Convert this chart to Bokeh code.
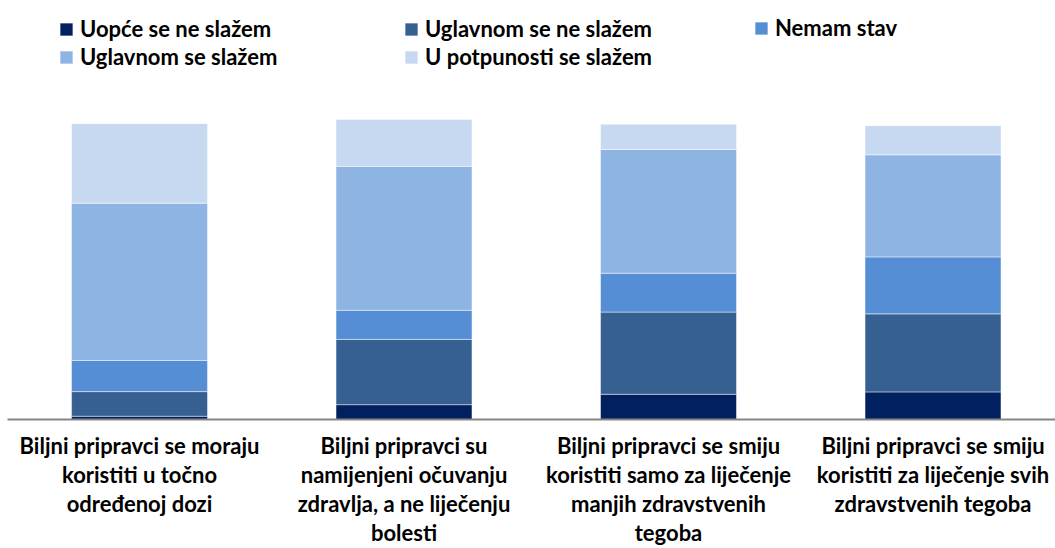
from bokeh.plotting import figure
from bokeh.models import Range1d, FixedTicker, Legend, LegendItem, ColumnDataSource
from bokeh.embed import file_html
from bokeh.resources import INLINE

categories = [
    "Biljni pripravci se moraju\nkoristiti u točno\nodređenoj dozi",
    "Biljni pripravci su\nnamijenjeni očuvanju\nzdravlja, a ne liječenju\nbolesti",
    "Biljni pripravci se smiju\nkoristiti samo za liječenje\nmanjih zdravstvenih\ntegoba",
    "Biljni pripravci se smiju\nkoristiti za liječenje svih\nzdravstvenih tegoba",
]
series = ["Uopće se ne slažem", "Uglavnom se ne slažem", "Nemam stav",
          "Uglavnom se slažem", "U potpunosti se slažem"]
uopce_ne = [1.1, 5.0, 8.5, 9.3]
uglavnom_ne = [8.3, 22.0, 27.7, 26.3]
nemam_stav = [10.5, 9.8, 13.1, 19.2]
uglavnom_da = [53.0, 48.5, 41.7, 34.4]
potpuno_da = [26.8, 15.8, 8.5, 9.8]
colors = ["#002060", "#376092", "#558ED5", "#8EB4E3", "#C6D9F1"]

xs = list(range(len(categories)))
keys = ["s0", "s1", "s2", "s3", "s4"]
source = ColumnDataSource(dict(x=xs, s0=uopce_ne, s1=uglavnom_ne, s2=nemam_stav,
                               s3=uglavnom_da, s4=potpuno_da))

W, H = 1055, 548
p = figure(width=W, height=H, output_backend="svg", toolbar_location=None,
           x_range=Range1d(-0.4991, 3.4631), y_range=Range1d(0, 141.2),
           min_border_left=7, min_border_right=0, min_border_top=0,
           min_border_bottom=124)
p.outline_line_color = None
p.xgrid.visible = False
p.ygrid.visible = False
p.yaxis.visible = False

rs = p.vbar_stack(keys, x="x", width=0.514, source=source, color=colors,
                  line_color="white", line_alpha=0.45, line_width=1)

ax = p.xaxis[0]
ax.ticker = FixedTicker(ticks=xs)
ax.major_label_overrides = {i: c for i, c in zip(xs, categories)}
ax.major_tick_line_color = None
ax.minor_tick_line_color = None
ax.axis_line_color = "#868686"
ax.axis_line_width = 2
ax.major_label_text_font = "Lato"
ax.major_label_text_font_style = "bold"
ax.major_label_text_font_size = "22px"
ax.major_label_text_color = "#000000"
ax.major_label_text_line_height = 1.08
ax.major_label_standoff = 6

def make_legend(idx, loc):
    lg = Legend(items=[LegendItem(label=series[i], renderers=[rs[i]]) for i in idx],
                location=loc, orientation="vertical",
                glyph_width=16, glyph_height=16, label_standoff=6,
                padding=0, margin=0, spacing=1, label_height=24,
                border_line_alpha=0, background_fill_alpha=0,
                label_text_font="Lato", label_text_font_style="bold",
                label_text_font_size="22px", label_text_color="#000000")
    p.add_layout(lg)

make_legend([0, 3], (51, 349))
make_legend([1, 4], (396, 349))
make_legend([2], (746, 378))

open("out.html", "w").write(file_html(p, INLINE))
